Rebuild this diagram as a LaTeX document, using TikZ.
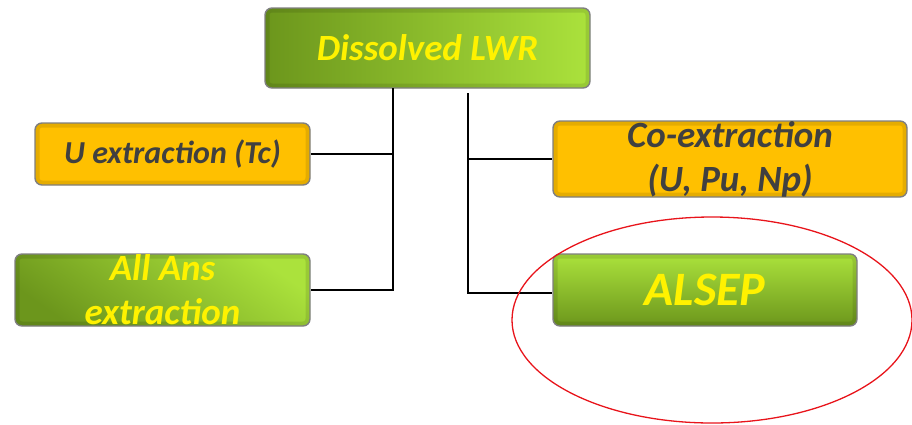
\documentclass[tikz,border=0pt]{standalone}
\usepackage{fontspec}
\setmainfont{Carlito}
\begin{document}
\begin{tikzpicture}[x=1pt,y=-1pt,
  box/.style={draw=boxrim, line width=1.4pt, rounded corners=7pt, inner sep=0pt,
    font=\bfseries\itshape, align=center,
    path picture={\draw[line width=9pt, black, opacity=0.10, rounded corners=7pt]
      (path picture bounding box.south west) rectangle (path picture bounding box.north east);}},
  greenbox/.style={box, text=yellow},
  orangebox/.style={box, fill=amber, text=darktext},
  link/.style={line width=1.4pt, black}]
\definecolor{boxrim}{HTML}{7F7F7F}
\definecolor{amber}{HTML}{FFC000}
\definecolor{darktext}{HTML}{404040}
\definecolor{leafdark}{HTML}{6C961C}
\definecolor{leafbright}{HTML}{ABE23C}
\definecolor{ringred}{HTML}{E8141B}
\useasboundingbox (0,0) rectangle (912,424);
\clip (0,0) rectangle (912,424);

% root
\node[greenbox, left color=leafdark, right color=leafbright,
  minimum width=325pt, minimum height=80pt, font=\bfseries\itshape\fontsize{37}{40}\selectfont]
  (lwr) at (427.5,48) {Dissolved LWR};

% left branch
\node[orangebox, minimum width=275pt, minimum height=62pt,
  font=\bfseries\itshape\fontsize{32}{36}\selectfont]
  (uext) at (172.5,154) {U extraction (Tc)};
\node[greenbox, bottom color=leafdark, top color=leafbright, shading angle=-35,
  minimum width=295pt, minimum height=72pt,
  font=\bfseries\itshape\fontsize{37}{44}\selectfont]
  (allans) at (162.5,290) {All Ans\\extraction};

% right branch
\node[orangebox, minimum width=354pt, minimum height=76pt,
  font=\bfseries\itshape\fontsize{37}{44}\selectfont]
  (coext) at (730,159) {Co-extraction\\(U, Pu, Np)};
\node[greenbox, bottom color=leafdark, top color=leafbright,
  minimum width=304pt, minimum height=72pt,
  font=\bfseries\itshape\fontsize{48}{52}\selectfont]
  (alsep) at (705,290) {ALSEP};

% connectors
\coordinate (ltop) at (393,88);
\coordinate (rtop) at (468,93);
\draw[link] (ltop) |- (uext.east);
\draw[link] (ltop) |- (allans.east);
\draw[link] (rtop) |- (coext.west);
\draw[link] (rtop) |- ([yshift=-3pt]alsep.west);

% highlight ring
\draw[ringred, line width=1.3pt] (712,320) ellipse [x radius=200, y radius=103];
\end{tikzpicture}
\end{document}
